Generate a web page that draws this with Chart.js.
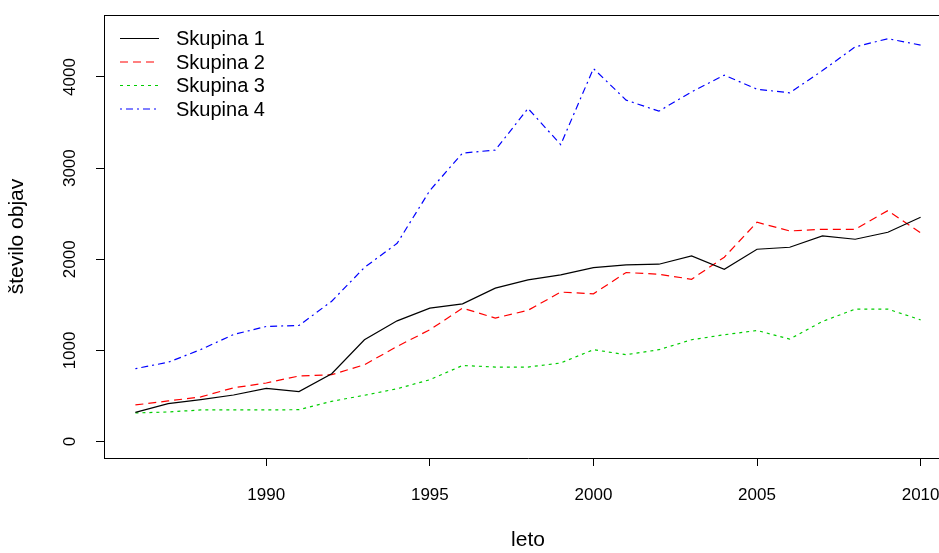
<!DOCTYPE html>
<html>
<head>
<meta charset="utf-8">
<script src="https://cdn.jsdelivr.net/npm/chart.js@4"></script>
<style>
  html, body { margin: 0; padding: 0; background: #fff; overflow: hidden; }
  #wrap { width: 939px; height: 553px; overflow: hidden; }
</style>
</head>
<body>
<div id="wrap"><canvas id="myChart" width="960" height="553"></canvas></div>
<script>
// data
const years = [1986, 1987, 1988, 1989, 1990, 1991, 1992, 1993, 1994, 1995, 1996, 1997, 1998,
               1999, 2000, 2001, 2002, 2003, 2004, 2005, 2006, 2007, 2008, 2009, 2010];
const skupina1 = [321, 416, 460, 511, 584, 548, 744, 1117, 1325, 1464, 1511, 1683, 1774,
                  1829, 1909, 1938, 1946, 2037, 1891, 2110, 2132, 2256, 2220, 2297, 2461];
const skupina2 = [402, 446, 490, 590, 643, 720, 734, 843, 1044, 1227, 1464, 1355, 1440,
                  1640, 1621, 1855, 1836, 1781, 2023, 2406, 2311, 2329, 2329, 2534, 2290];
const skupina3 = [314, 325, 347, 347, 347, 350, 442, 508, 580, 679, 835, 818, 818,
                  862, 1008, 953, 1008, 1117, 1172, 1219, 1125, 1318, 1453, 1453, 1336];
const skupina4 = [800, 870, 1010, 1175, 1263, 1274, 1540, 1910, 2175, 2755, 3165, 3198, 3655,
                  3258, 4093, 3746, 3625, 3837, 4020, 3866, 3826, 4070, 4330, 4420, 4350];
const seriesNames = ["Skupina 1", "Skupina 2", "Skupina 3", "Skupina 4"];
const xTicks = [1990, 1995, 2000, 2005, 2010];
const yTicks = [0, 1000, 2000, 3000, 4000];

const FONT = "'Liberation Sans', Arial, sans-serif";

function points(vals) {
    return years.map((y, i) => ({ x: y, y: vals[i] }));
}

function line(label, vals, color, dash) {
    return {
        label: label,
        data: points(vals),
        borderColor: color,
        backgroundColor: color,
        borderWidth: 1.2,
        borderDash: dash,
        pointRadius: 0,
        tension: 0,
        fill: false
    };
}

// top of the box, rotated y labels, legend (base R look)
const rStyle = {
    id: "rStyle",
    afterDraw(chart) {
        const ctx = chart.ctx;
        const a = chart.chartArea;
        ctx.save();
        ctx.strokeStyle = "#000";
        ctx.lineWidth = 1;
        ctx.beginPath();
        ctx.moveTo(a.left, a.top + 0.5);
        ctx.lineTo(a.right, a.top + 0.5);
        ctx.stroke();

        // y tick labels, rotated
        const ys = chart.scales.y;
        ctx.fillStyle = "#000";
        ctx.font = "17px " + FONT;
        ctx.textAlign = "center";
        ctx.textBaseline = "middle";
        ys.ticks.forEach(t => {
            const py = ys.getPixelForValue(t.value);
            ctx.save();
            ctx.translate(70, py);
            ctx.rotate(-Math.PI / 2);
            ctx.fillText(String(t.value), 0, 0);
            ctx.restore();
        });

        // legend, no frame
        ctx.font = "20px " + FONT;
        chart.data.datasets.forEach((ds, i) => {
            const ly = 38.5 + i * 23.5;
            ctx.beginPath();
            ctx.lineWidth = 1.2;
            ctx.setLineDash(ds.borderDash || []);
            ctx.strokeStyle = ds.borderColor;
            ctx.moveTo(120, ly);
            ctx.lineTo(159, ly);
            ctx.stroke();
            ctx.setLineDash([]);
            ctx.fillStyle = "#000";
            ctx.textAlign = "left";
            ctx.fillText(ds.label, 176, ly + 1);
        });
        ctx.restore();
    }
};

const ctx = document.getElementById("myChart").getContext("2d");
new Chart(ctx, {
    type: "line",
    data: {
        datasets: [
            line(seriesNames[0], skupina1, "#000000", []),
            line(seriesNames[1], skupina2, "#FF0000", [8, 5]),
            line(seriesNames[2], skupina3, "#00CD00", [3, 4]),
            line(seriesNames[3], skupina4, "#0000FF", [2, 4, 7, 4])
        ]
    },
    options: {
        responsive: false,
        animation: false,
        events: [],
        layout: { padding: { left: 0, top: 15, right: 8, bottom: 0 } },
        plugins: { legend: { display: false }, tooltip: { enabled: false } },
        scales: {
            x: {
                type: "linear",
                min: 1985.04,
                max: 2010.96,
                afterBuildTicks: s => { s.ticks = xTicks.map(v => ({ value: v })); },
                afterFit: s => { s.height = 95; s.paddingLeft = 0; s.paddingRight = 0; },
                grid: { drawOnChartArea: false, drawTicks: true, tickLength: 8, tickColor: "#000" },
                border: { display: true, color: "#000", width: 1 },
                ticks: {
                    color: "#000",
                    font: { family: FONT, size: 17 },
                    padding: 19,
                    maxRotation: 0,
                    callback: v => String(v)
                },
                title: {
                    display: true,
                    text: "leto",
                    color: "#000",
                    font: { family: FONT, size: 21 },
                    padding: { top: 0, bottom: 0 }
                }
            },
            y: {
                type: "linear",
                min: -180,
                max: 4680,
                afterBuildTicks: s => { s.ticks = yTicks.map(v => ({ value: v })); },
                afterFit: s => { s.width = 104; s.paddingTop = 0; s.paddingBottom = 0; },
                grid: { drawOnChartArea: false, drawTicks: true, tickLength: 8, tickColor: "#000" },
                border: { display: true, color: "#000", width: 1 },
                ticks: { display: false },
                title: {
                    display: true,
                    text: "število objav",
                    color: "#000",
                    font: { family: FONT, size: 21 },
                    padding: { top: 5, bottom: 0 }
                }
            }
        }
    },
    plugins: [rStyle]
});
</script>
</body>
</html>
